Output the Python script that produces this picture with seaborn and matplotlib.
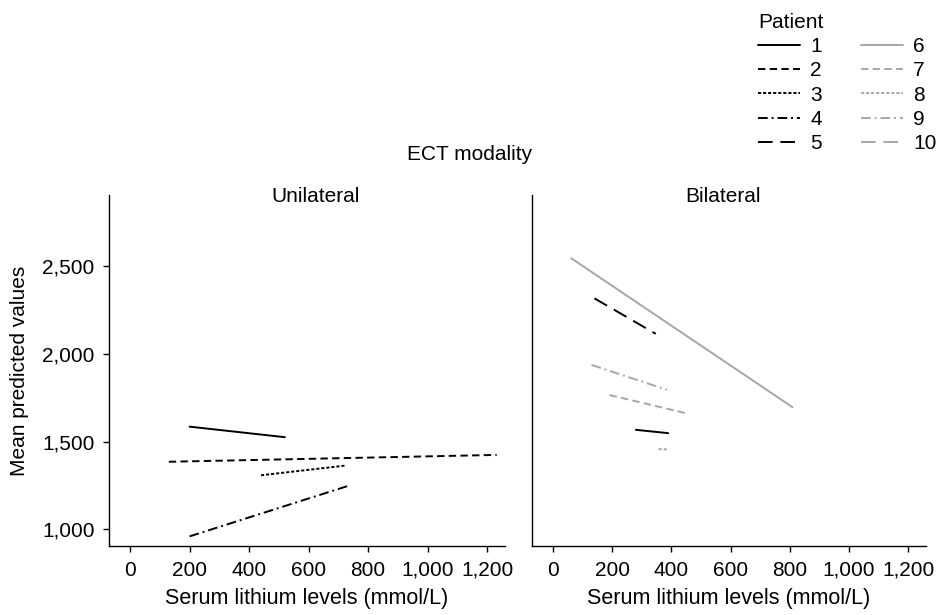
import numpy as np
import pandas as pd
import seaborn as sns
import matplotlib.pyplot as plt
from matplotlib.lines import Line2D
from matplotlib.ticker import StrMethodFormatter

# line end points (lithium, predicted value)
uni_patient = ['1', '2', '3', '4']
uni_li_start = [200, 130, 440, 200]
uni_li_end = [520, 1232, 722, 730]
uni_val_start = [1585, 1385, 1308, 960]
uni_val_end = [1525, 1424, 1363, 1246]

bil_patient = ['6', '5', '9', '7', '1', '8']
bil_li_start = [62, 140, 130, 191, 280, 357]
bil_li_end = [809, 347, 385, 453, 389, 389]
bil_val_start = [2544, 2316, 1937, 1765, 1567, 1457]
bil_val_end = [1696, 2114, 1795, 1660, 1548, 1455]

patients = [str(i) for i in range(1, 11)]
x_ticks = [0, 200, 400, 600, 800, 1000, 1200]
y_ticks = [1000, 1500, 2000, 2500]


def long_df(pat, li0, li1, v0, v1):
    rows = []
    for p, a, b, c, d in zip(pat, li0, li1, v0, v1):
        rows.append((p, a, c))
        rows.append((p, b, d))
    return pd.DataFrame(rows, columns=['patient', 'lithium', 'value'])


uni = long_df(uni_patient, uni_li_start, uni_li_end, uni_val_start, uni_val_end)
bil = long_df(bil_patient, bil_li_start, bil_li_end, bil_val_start, bil_val_end)

sns.set_style('ticks')
plt.rcParams['font.family'] = ['Liberation Sans', 'DejaVu Sans']
fs = 15
plt.rcParams['font.size'] = fs
plt.rcParams['text.color'] = 'black'
plt.rcParams['axes.labelcolor'] = 'black'

patterns = ['', (3.8, 2.2), (1.6, 1), (5, 2, 1, 2), (7.5, 4)]
pal = {}
dash = {}
for i, p in enumerate(patients):
    pal[p] = 'black' if i < 5 else '#a6a6a6'
    dash[p] = patterns[i % 5]

fig = plt.figure(figsize=(9.39, 6.15), dpi=100)
W, H = 939, 615
bottom = 1 - 546 / H
height = (546 - 195) / H
ax1 = fig.add_axes([109 / W, bottom, (505 - 109) / W, height])
ax2 = fig.add_axes([532 / W, bottom, (926 - 532) / W, height], sharey=ax1)

lw = 1.4
for ax, d in [(ax1, uni), (ax2, bil)]:
    sns.lineplot(data=d, x='lithium', y='value', hue='patient', style='patient',
                 palette=pal, dashes=dash, estimator=None, units='patient',
                 linewidth=lw, legend=False, ax=ax)
    ax.set_xlim(-71, 1260)
    ax.set_xticks(x_ticks)
    ax.xaxis.set_major_formatter(StrMethodFormatter('{x:,.0f}'))
    ax.set_xlabel('Serum lithium levels (mmol/L)', fontsize=15.5)
    ax.xaxis.set_label_coords(0.5, -0.12)
    ax.set_ylabel('')
    sns.despine(ax=ax)
    ax.tick_params(length=4.5, width=1, pad=6, colors='black', labelsize=fs)
    for s in ax.spines.values():
        s.set_color('black')
        s.set_linewidth(1)

ax1.set_ylim(905, 2905)
ax1.set_yticks(y_ticks)
ax1.yaxis.set_major_formatter(StrMethodFormatter('{x:,.0f}'))
ax1.set_ylabel('Mean predicted values', fontsize=fs)
ax1.yaxis.set_label_coords((29 - 109) / 396, 0.5)
ax2.tick_params(axis='y', left=False, labelleft=False)

fig.text(316 / W, 1 - 196 / H, 'Unilateral', ha='center', va='center', fontsize=fs)
fig.text(723 / W, 1 - 196 / H, 'Bilateral', ha='center', va='center', fontsize=fs)
fig.text(0.5, 1 - 155 / H, 'ECT modality', ha='center', va='center', fontsize=fs)

handles = []
for p in patients:
    ls = '-' if dash[p] == '' else (0, dash[p])
    handles.append(Line2D([0], [0], color=pal[p], linestyle=ls, linewidth=lw))
fig.legend(handles, patients, title='Patient', ncol=2, loc='upper left',
           bbox_to_anchor=(758 / W, 1 - 13 / H), frameon=False, alignment='left',
           borderpad=0, borderaxespad=0, handlelength=2.0, handletextpad=0.5,
           labelspacing=0.25, columnspacing=1.9, fontsize=fs, title_fontsize=fs)

fig.savefig('out.png', dpi=100)
